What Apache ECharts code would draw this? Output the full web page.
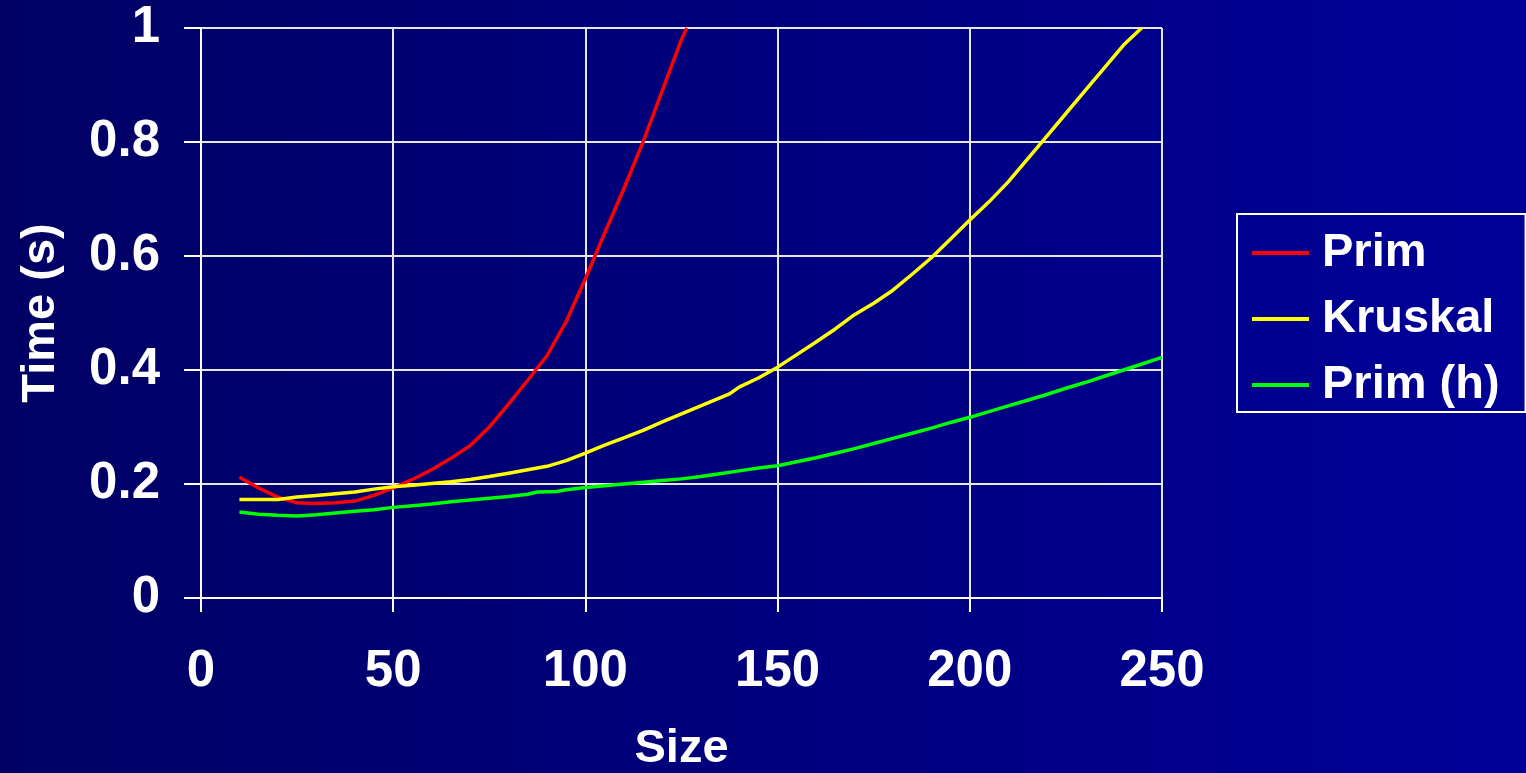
<!DOCTYPE html>
<html>
<head>
<meta charset="utf-8">
<script src="https://cdn.jsdelivr.net/npm/echarts@6/dist/echarts.min.js"></script>
<style>
html,body{margin:0;padding:0;background:#000070;}
#chart{width:1526px;height:773px;}
</style>
</head>
<body>
<div id="chart"></div>
<script>
// ---- data ----
const seriesNames = ['Prim', 'Kruskal', 'Prim (h)'];

const primX = [10, 15, 20, 25, 30, 35, 40, 45, 50, 55, 60, 65, 70, 75, 80, 85, 90, 95, 100, 105, 110, 115, 120, 125, 126.4];
const primY = [0.212, 0.193, 0.177, 0.167, 0.166, 0.167, 0.170, 0.180, 0.193, 0.208, 0.225, 0.245, 0.267, 0.300, 0.340, 0.382, 0.425, 0.485, 0.560, 0.640, 0.718, 0.800, 0.890, 0.980, 1.0];

const kruskalX = [10, 15, 20, 25, 30, 35, 40, 45, 50, 55, 60, 65, 70, 75, 80, 85, 90, 95, 100, 105, 110, 115, 120, 125, 130, 137.5, 140, 145, 150, 155, 160, 165, 170, 175, 180, 185, 190, 195, 200, 205, 210, 215, 220, 225, 230, 235, 240, 244.7];
const kruskalY = [0.173, 0.173, 0.173, 0.177, 0.180, 0.183, 0.186, 0.191, 0.195, 0.198, 0.201, 0.204, 0.208, 0.213, 0.219, 0.225, 0.231, 0.241, 0.254, 0.268, 0.281, 0.294, 0.309, 0.323, 0.337, 0.358, 0.370, 0.386, 0.405, 0.427, 0.449, 0.472, 0.497, 0.517, 0.540, 0.568, 0.597, 0.630, 0.663, 0.695, 0.730, 0.770, 0.810, 0.850, 0.890, 0.930, 0.970, 1.0];

const primHX = [10, 15, 20, 25, 30, 35, 40, 45, 50, 55, 60, 65, 70, 75, 80, 85, 87.5, 92.5, 95, 100, 105, 110, 115, 120, 125, 130, 135, 140, 145, 150, 155, 160, 165, 170, 175, 180, 185, 190, 195, 200, 205, 210, 215, 220, 225, 230, 235, 240, 245, 250];
const primHY = [0.151, 0.147, 0.145, 0.144, 0.146, 0.149, 0.152, 0.155, 0.159, 0.162, 0.165, 0.169, 0.172, 0.175, 0.178, 0.182, 0.186, 0.187, 0.190, 0.194, 0.197, 0.200, 0.203, 0.206, 0.209, 0.213, 0.218, 0.223, 0.228, 0.232, 0.239, 0.246, 0.254, 0.262, 0.271, 0.280, 0.289, 0.298, 0.308, 0.317, 0.327, 0.337, 0.347, 0.357, 0.368, 0.378, 0.389, 0.400, 0.411, 0.422];

const xTicks = [0, 50, 100, 150, 200, 250];
const yTicks = [0, 0.2, 0.4, 0.6, 0.8, 1];
const xTitle = 'Size';
const yTitle = 'Time (s)';
const colors = ['#ff0000', '#ffff00', '#00ff00'];

function pairs(xs, ys) { return xs.map((x, i) => [x, ys[i]]); }

const FONT = "'Liberation Sans', Arial, Helvetica, sans-serif";

const chart = echarts.init(document.getElementById('chart'), null, { renderer: 'canvas' });

const mkSeries = (name, xs, ys, color) => ({
  name: name,
  type: 'line',
  data: pairs(xs, ys),
  symbol: 'none',
  smooth: false,
  clip: true,
  lineStyle: { color: color, width: 3.5 },
  itemStyle: { color: color }
});

chart.setOption({
  animation: false,
  backgroundColor: {
    type: 'linear', x: 0, y: 0, x2: 1, y2: 0,
    colorStops: [{ offset: 0, color: '#000064' }, { offset: 1, color: '#000098' }]
  },
  textStyle: { fontFamily: FONT },
  grid: { left: 201, right: 364, top: 28, bottom: 175, containLabel: false, outerBoundsMode: 'none' },
  legend: {
    orient: 'vertical',
    left: 1237,
    top: 214,
    padding: [14, 26, 2, 15],
    icon: 'rect',
    itemWidth: 57,
    itemHeight: 4,
    itemGap: 16,
    borderColor: '#ffffff',
    borderWidth: 2,
    data: seriesNames,
    textStyle: { color: '#ffffff', fontSize: 47, fontWeight: 'bold', fontFamily: FONT, lineHeight: 50, padding: [0, 0, 0, 8] }
  },
  xAxis: {
    type: 'value',
    min: xTicks[0],
    max: xTicks[xTicks.length - 1],
    interval: 50,
    name: xTitle,
    nameLocation: 'middle',
    nameGap: 128,
    nameTextStyle: { color: '#ffffff', fontSize: 47, fontWeight: 'bold', fontFamily: FONT },
    axisLine: { show: true, onZero: false, lineStyle: { color: '#ffffff', width: 2 } },
    axisTick: { show: true, inside: false, length: 14, lineStyle: { color: '#ffffff', width: 2 } },
    axisLabel: { color: '#ffffff', fontSize: 51, fontWeight: 'bold', fontFamily: FONT, margin: 48 },
    splitLine: { show: true, lineStyle: { color: '#e6e6e6', width: 2 } }
  },
  yAxis: {
    type: 'value',
    min: yTicks[0],
    max: yTicks[yTicks.length - 1],
    interval: 0.2,
    name: yTitle,
    nameLocation: 'middle',
    nameGap: 136,
    nameTextStyle: { color: '#ffffff', fontSize: 47, fontWeight: 'bold', fontFamily: FONT },
    axisLine: { show: true, onZero: false, lineStyle: { color: '#ffffff', width: 2 } },
    axisTick: { show: true, inside: false, length: 17, lineStyle: { color: '#ffffff', width: 2 } },
    axisLabel: { color: '#ffffff', fontSize: 51, fontWeight: 'bold', fontFamily: FONT, margin: 41 },
    splitLine: { show: true, lineStyle: { color: '#e6e6e6', width: 2 } }
  },
  series: [
    mkSeries(seriesNames[0], primX, primY, colors[0]),
    mkSeries(seriesNames[1], kruskalX, kruskalY, colors[1]),
    mkSeries(seriesNames[2], primHX, primHY, colors[2])
  ]
});
</script>
</body>
</html>
